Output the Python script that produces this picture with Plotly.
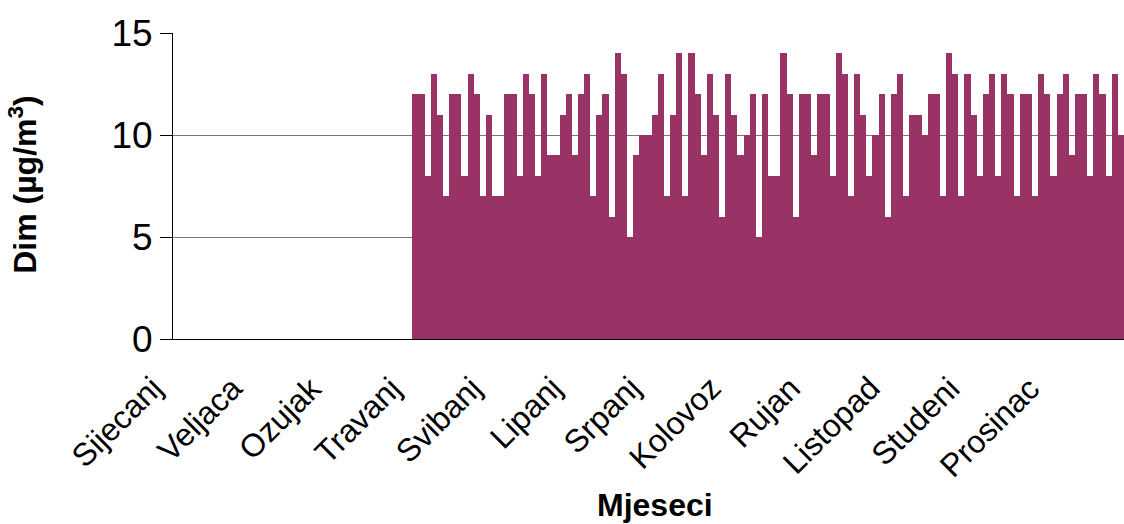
import plotly.graph_objects as go

# months shown on the category axis (every 13th sample)
months = ["Sijecanj", "Veljaca", "Ozujak", "Travanj", "Svibanj", "Lipanj",
          "Srpanj", "Kolovoz", "Rujan", "Listopad", "Studeni", "Prosinac"]

n_empty = 39  # no measurements at the start of the year

smoke = [12, 12, 8, 13, 11, 7, 12, 12, 8, 13, 12, 7, 11, 7, 7, 12, 12, 8,
         13, 12, 8, 13, 9, 9, 11, 12, 9, 12, 13, 7, 11, 12, 6, 14, 13, 5, 9, 10, 10,
         11, 13, 7, 11, 14, 7, 14, 12, 9, 13, 11, 6, 13, 11, 9, 10, 12, 5,
         12, 8, 8, 14, 12, 6, 12, 12, 9, 12, 12, 8, 14, 13, 7, 13, 11, 8, 10, 12,
         6, 12, 13, 7, 11, 11, 10, 12, 12, 7, 14, 13, 7, 13, 11, 8, 12, 13, 8,
         13, 12, 7, 12, 12, 7, 13, 12, 8, 12, 13, 9, 12, 12, 8, 13, 12, 8, 13, 10]

values = [None] * n_empty + smoke
idx = list(range(len(values)))
tick_pos = idx[::13][:len(months)]

font = "Arial, Liberation Sans, sans-serif"

fig = go.Figure()
fig.add_trace(go.Bar(
    x=idx, y=values,
    marker=dict(color="#993366", line=dict(width=0)),
))

fig.update_layout(
    width=1124, height=524,
    margin=dict(l=173, r=0, t=33, b=185),
    plot_bgcolor="white", paper_bgcolor="white",
    bargap=0, showlegend=False,
    font=dict(family=font, color="black"),
)

fig.update_xaxes(
    range=[-0.5, len(values) - 0.5],
    showticklabels=False,
    showgrid=False, zeroline=False,
    showline=True, linecolor="black", linewidth=1,
    ticks="",
)

fig.update_yaxes(
    range=[0, 15], dtick=5,
    tickfont=dict(size=37),
    showgrid=True, gridcolor="#777777", gridwidth=1,
    zeroline=False,
    showline=True, linecolor="black", linewidth=1,
    ticks="outside", ticklen=12, tickcolor="black",
)

# month labels: rotated, ending just left of the category, as in excel
for pos, name in zip(tick_pos, months):
    fig.add_annotation(
        text=name, x=pos, xref="x", y=0, yref="paper",
        xanchor="right", yanchor="top", textangle=-45,
        xshift=-4, yshift=-28, showarrow=False,
        font=dict(size=32),
    )

fig.add_annotation(
    text="<b>Dim (µg/m<sup>3</sup>)</b>", xref="paper", yref="paper",
    x=-0.158, y=0.503, xanchor="center", yanchor="middle",
    textangle=-90, showarrow=False, font=dict(size=32),
)
fig.add_annotation(
    text="<b>Mjeseci</b>", xref="paper", yref="paper",
    x=0.507, y=-0.542, xanchor="center", yanchor="middle",
    showarrow=False, font=dict(size=32),
)

fig.write_html(
    "out.html",
    config={"displayModeBar": False},
    post_script="document.body.style.margin='0';document.body.style.overflow='hidden';",
)
